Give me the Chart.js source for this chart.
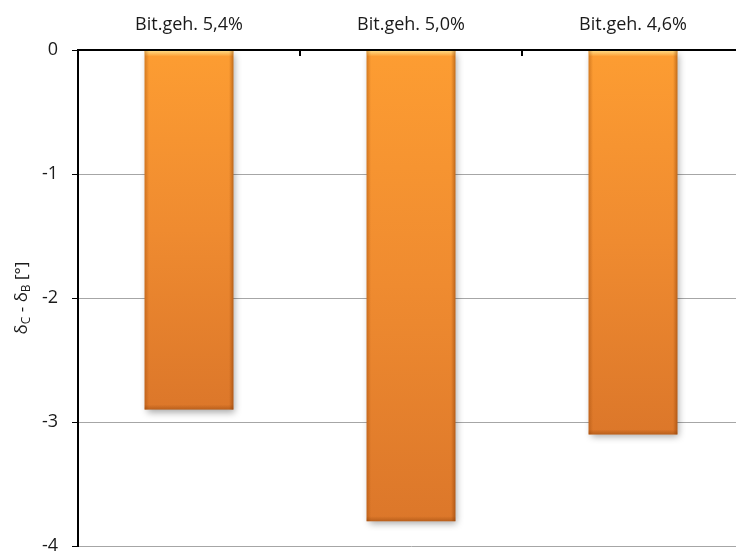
<!DOCTYPE html>
<html>
<head>
<meta charset="utf-8">
<script src="https://cdn.jsdelivr.net/npm/chart.js@4/dist/chart.umd.min.js"></script>
<style>
  html, body { margin: 0; padding: 0; background: #fff; overflow: hidden; }
  #wrap { position: relative; width: 750px; height: 554px; }
</style>
</head>
<body>
<div id="wrap"><canvas id="deltaChart" width="750" height="554"></canvas></div>
<script>
const categories = ['Bit.geh. 5,4%', 'Bit.geh. 5,0%', 'Bit.geh. 4,6%'];
const deltaValues = [-2.9, -3.8, -3.1];
const yMin = -4;
const yMax = 0;
const yStep = 1;

const FONT = '"Open Sans", "Liberation Sans", sans-serif';
const TEXT = '#1a1a1a';

// vertical orange gradient per bar, from the zero line down to the bar end
function barFill(context) {
  const chart = context.chart;
  const y = chart.scales.y;
  if (!y || typeof context.raw !== 'number') return '#f39332';
  const top = y.getPixelForValue(0);
  const bottom = y.getPixelForValue(context.raw);
  if (!isFinite(top) || !isFinite(bottom) || top === bottom) return '#f39332';
  const g = chart.ctx.createLinearGradient(0, top, 0, bottom);
  g.addColorStop(0, '#fd9d32');
  g.addColorStop(0.5, '#ef8b30');
  g.addColorStop(1, '#dc772a');
  return g;
}

const barShadow = {
  id: 'barShadow',
  beforeDatasetsDraw(chart) {
    const ctx = chart.ctx;
    ctx.save();
    ctx.shadowColor = 'rgba(0,0,0,0.35)';
    ctx.shadowBlur = 7;
    ctx.shadowOffsetX = 2;
    ctx.shadowOffsetY = 3;
  },
  afterDatasetsDraw(chart) {
    const ctx = chart.ctx;
    ctx.restore();
    // bevel: bright top edge and darker sides
    chart.getDatasetMeta(0).data.forEach(bar => {
      const left = bar.x - bar.width / 2;
      const right = bar.x + bar.width / 2;
      const top = Math.min(bar.y, bar.base);
      const bottom = Math.max(bar.y, bar.base);
      if (![left, right, top, bottom].every(isFinite)) return;
      ctx.save();
      const hg = ctx.createLinearGradient(0, top, 0, top + 6);
      hg.addColorStop(0, 'rgba(255,225,140,0.95)');
      hg.addColorStop(1, 'rgba(255,225,140,0)');
      ctx.fillStyle = hg;
      ctx.fillRect(left, top, right - left, 6);
      const sg = ctx.createLinearGradient(left, 0, right, 0);
      sg.addColorStop(0, 'rgba(140,60,0,0.35)');
      sg.addColorStop(0.05, 'rgba(140,60,0,0)');
      sg.addColorStop(0.95, 'rgba(140,60,0,0)');
      sg.addColorStop(1, 'rgba(120,50,0,0.45)');
      ctx.fillStyle = sg;
      ctx.fillRect(left, top, right - left, bottom - top);
      const bg = ctx.createLinearGradient(0, bottom - 5, 0, bottom);
      bg.addColorStop(0, 'rgba(120,50,0,0)');
      bg.addColorStop(1, 'rgba(120,50,0,0.35)');
      ctx.fillStyle = bg;
      ctx.fillRect(left, bottom - 5, right - left, 5);
      ctx.restore();
    });
  }
};

// short downward ticks on the top axis between the categories
const categoryTicks = {
  id: 'categoryTicks',
  afterDraw(chart) {
    const ctx = chart.ctx;
    const x = chart.scales.x;
    const top = chart.chartArea.top;
    ctx.save();
    ctx.strokeStyle = '#000';
    ctx.lineWidth = 2;
    for (let i = 0; i <= categories.length; i++) {
      const px = Math.round(x.getPixelForValue(i - 0.5));
      ctx.beginPath();
      ctx.moveTo(px, top);
      ctx.lineTo(px, top + 6);
      ctx.stroke();
    }
    ctx.restore();
  }
};

// y axis title with subscripts: δC - δB [°]
const yTitle = {
  id: 'yTitle',
  afterDraw(chart) {
    const ctx = chart.ctx;
    const parts = [
      { t: 'δ', sub: false },
      { t: 'C', sub: true },
      { t: ' - δ', sub: false },
      { t: 'B', sub: true },
      { t: ' [°]', sub: false }
    ];
    const big = '17px ' + FONT;
    const small = '12px ' + FONT;
    ctx.save();
    let total = 0;
    parts.forEach(p => {
      ctx.font = p.sub ? small : big;
      p.w = ctx.measureText(p.t).width;
      total += p.w;
    });
    ctx.translate(22, (chart.chartArea.top + chart.chartArea.bottom) / 2);
    ctx.rotate(-Math.PI / 2);
    ctx.fillStyle = TEXT;
    ctx.textBaseline = 'middle';
    let cx = -total / 2;
    parts.forEach(p => {
      ctx.font = p.sub ? small : big;
      ctx.fillText(p.t, cx, p.sub ? 5 : 0);
      cx += p.w;
    });
    ctx.restore();
  }
};

new Chart(document.getElementById('deltaChart'), {
  type: 'bar',
  data: {
    labels: categories,
    datasets: [{
      data: deltaValues,
      backgroundColor: barFill,
      borderWidth: 0,
      barPercentage: 0.8,
      categoryPercentage: 0.5
    }]
  },
  options: {
    responsive: false,
    animation: false,
    devicePixelRatio: 1,
    layout: { padding: { left: 0, right: 6, top: 0, bottom: 8 } },
    plugins: {
      legend: { display: false },
      tooltip: { enabled: false }
    },
    scales: {
      x: {
        position: 'top',
        offset: true,
        afterFit: s => { s.height = 50; s.paddingLeft = 0; s.paddingRight = 0; },
        grid: { display: true, drawOnChartArea: false, drawTicks: false },
        border: { color: '#000', width: 2, z: 1 },
        ticks: { color: TEXT, font: { family: FONT, size: 18 }, padding: 14 }
      },
      y: {
        min: yMin,
        max: yMax,
        afterFit: s => { s.width = 78; s.paddingTop = 0; s.paddingBottom = 0; },
        grid: {
          color: c => (c.tick && c.tick.value === 0) ? 'rgba(0,0,0,0)' : '#a6a6a6',
          tickColor: '#000',
          tickLength: 6,
          lineWidth: 1
        },
        border: { color: '#000', width: 2, z: 1 },
        ticks: {
          stepSize: yStep,
          color: TEXT,
          font: { family: FONT, size: 18 },
          padding: 14
        }
      }
    }
  },
  plugins: [barShadow, categoryTicks, yTitle]
});
</script>
</body>
</html>
